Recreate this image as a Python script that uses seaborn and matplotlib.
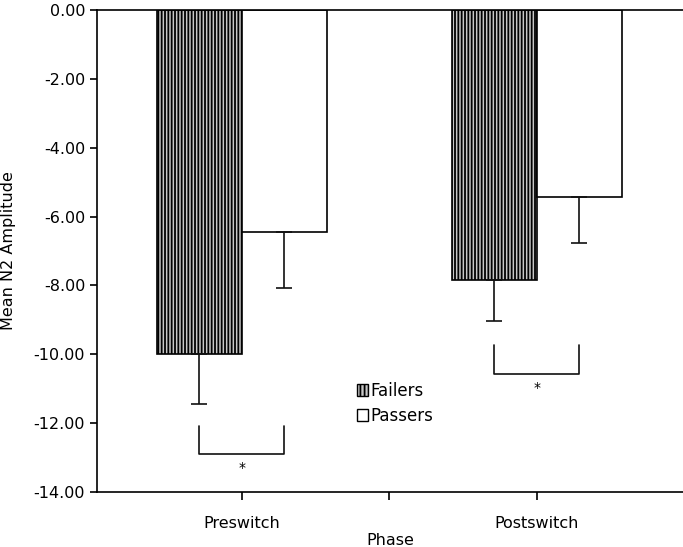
import numpy as np
import pandas as pd
import seaborn as sns
import matplotlib.pyplot as plt
from matplotlib.patches import Patch

# values
phases = ["Preswitch", "Postswitch"]
groups = ["Failers", "Passers"]
means = {"Failers": [-9.98, -7.85], "Passers": [-6.45, -5.44]}
errs = {"Failers": [1.45, 1.17], "Passers": [1.62, 1.33]}
# significance brackets: (top, bottom) per phase
brackets = [(-12.08, -12.90), (-9.74, -10.58)]

sns.set_style("ticks")
plt.rcParams['font.family'] = ['DejaVu Sans']
plt.rcParams['axes.unicode_minus'] = False
plt.rcParams['hatch.linewidth'] = 1.3
plt.rcParams['hatch.color'] = '#1a1a1a'
for k in ['text.color', 'axes.labelcolor', 'xtick.color', 'ytick.color', 'axes.edgecolor']:
    plt.rcParams[k] = 'black'

df = pd.DataFrame({
    "Phase": np.repeat(phases, 2),
    "Group": groups * 2,
    "Amp": [means[g][i] for i in range(2) for g in groups],
})

fig = plt.figure(figsize=(6.83, 5.47), dpi=100)
ax = fig.add_axes([0.142, 0.1005, 0.858, 0.8812])

sns.barplot(data=df, x="Phase", y="Amp", hue="Group", order=phases, hue_order=groups,
            palette={"Failers": "#c8c8c8", "Passers": "white"}, width=0.576,
            errorbar=None, edgecolor="black", linewidth=1.2, legend=False, ax=ax)

# hatch the Failers bars and add one-sided error bars
centers = {}
for bar, (g, i) in zip(ax.patches, [(g, i) for g in groups for i in range(2)]):
    cx = bar.get_x() + bar.get_width() / 2
    centers[(g, i)] = cx
    if g == "Failers":
        bar.set_hatch("|||||")
    ax.errorbar(cx, means[g][i], yerr=[[errs[g][i]], [0]], fmt="none",
                ecolor="#111111", elinewidth=1.2, capsize=6, capthick=1.2, zorder=1)

for i, (top, bot) in enumerate(brackets):
    x0, x1 = centers[("Failers", i)], centers[("Passers", i)]
    ax.plot([x0, x0, x1, x1], [top, bot, bot, top], color="#111111", lw=1.2)
    ax.text((x0 + x1) / 2, bot - 0.2, "*", ha="center", va="top", fontsize=10)

ax.set_ylim(-14, 0)
ax.set_xlim(-0.49, 1.495)
ax.set_yticks(np.arange(-14, 0.1, 2))
ax.set_yticklabels([f"{v:.2f}" for v in np.arange(-14, 0.1, 2)], fontsize=11.5)
ax.set_xticks([0, 0.5, 1])
ax.set_xticklabels(["Preswitch", "", "Postswitch"], fontsize=11.5)
ax.tick_params(axis="x", length=6, pad=11, width=1.2)
ax.tick_params(axis="y", length=5, width=1.2)
ax.set_xlabel("Phase", fontsize=11.5)
ax.xaxis.set_label_coords(0.5, -0.086)
ax.set_ylabel("Mean N2 Amplitude", fontsize=11.5)
ax.yaxis.set_label_coords(-0.138, 0.5)
ax.spines["right"].set_visible(False)
for s in ["left", "bottom", "top"]:
    ax.spines[s].set_linewidth(1.2)

handles = [Patch(facecolor="#c8c8c8", edgecolor="black", hatch="||||", label="Failers"),
           Patch(facecolor="white", edgecolor="black", label="Passers")]
fig.legend(handles=handles, loc="upper left", bbox_to_anchor=(350 / 683, 1 - 375 / 547),
           frameon=False, fontsize=12, handlelength=0.7, handleheight=0.75,
           handletextpad=0.1, labelspacing=0.45, borderaxespad=0)

fig.savefig("out.png", dpi=100)
